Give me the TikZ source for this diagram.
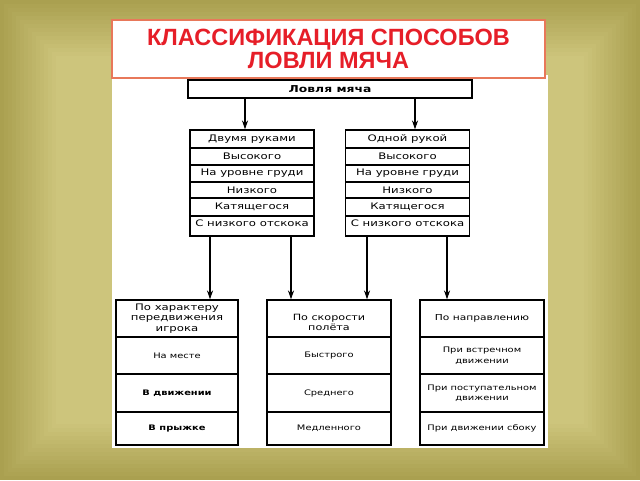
\documentclass[tikz,border=0pt]{standalone}
\usepackage{fontspec}
\setmainfont{Liberation Sans}
\newfontfamily\wide{DejaVu Sans}[FakeStretch=1.3]
\usetikzlibrary{arrows.meta}
\definecolor{oliveA}{RGB}{170,160,80}
\definecolor{oliveB}{RGB}{212,204,132}
\definecolor{titleline}{RGB}{232,120,90}
\definecolor{titletext}{RGB}{230,30,40}
\begin{document}
\begin{tikzpicture}[x=1pt,y=-1pt,
  cell/.style={draw=black,line width=1.1pt,fill=white,inner sep=0pt,align=center},
  t/.style={inner sep=0pt,align=center,font=\wide\fontsize{9}{10}\selectfont},
  s/.style={inner sep=0pt,align=center,font=\wide\fontsize{7.6}{10.5}\selectfont},
  arr/.style={line width=1.1pt,-{Stealth[length=9pt,width=6pt]}}]
\useasboundingbox (0,0) rectangle (640,480);
% background frames
\foreach \i in {0,...,14}{
  \pgfmathtruncatemacro\m{\i*4}
  \pgfmathtruncatemacro\c{100-\i*6}
  \fill[oliveA!\c!oliveB] (\m,\m) rectangle (640-\m,480-\m);
}
\fill[white] (112,75) rectangle (548,448);
\node[draw=titleline,line width=1.5pt,fill=white,minimum width=433,minimum height=58,inner sep=0pt,align=center,text=titletext,font=\bfseries\fontsize{23.5}{23}\selectfont] (title) at (328.5,49) {КЛАССИФИКАЦИЯ СПОСОБОВ\\ЛОВЛИ МЯЧА};
\node[cell,minimum width=284,minimum height=18,font=\wide\bfseries\fontsize{9.5}{10}\selectfont] (top) at (330,89) {Ловля мяча};
% middle stacks
\foreach \nm/\cx in {L/252,R/407.5}{
  \foreach \k/\ya/\yb in {1/130/148,2/148/165,3/165/182,4/182/198,5/198/216,6/216/236}{
    \node[cell,minimum width=124,minimum height={\yb-\ya}] (\nm\k) at (\cx,{(\ya+\yb)/2}) {};
  }
}
\foreach \k/\t in {1/Двумя руками,2/Высокого,3/На уровне груди,4/Низкого,5/Катящегося}{\node[t] at (L\k) {\t};}
\node[t,anchor=north] at ([yshift=-4pt]L6.north) {С низкого отскока};
\foreach \k/\t in {1/Одной рукой,2/Высокого,3/На уровне груди,4/Низкого,5/Катящегося}{\node[t] at (R\k) {\t};}
\node[t,anchor=north] at ([yshift=-4pt]R6.north) {С низкого отскока};
% bottom stacks
\foreach \nm/\cx/\w in {A/177/122,B/329/124,C/482/124}{
  \foreach \k/\ya/\yb in {1/300/337,2/337/374,3/374/412,4/412/445}{
    \node[cell,minimum width=\w,minimum height={\yb-\ya}] (\nm\k) at (\cx,{(\ya+\yb)/2}) {};
  }
}
\node[t,font=\wide\fontsize{9}{10.5}\selectfont] at (A1) {По характеру\\передвижения\\игрока};
\node[s] at (A2) {На месте};
\node[s,font=\wide\bfseries\fontsize{7.6}{10}\selectfont] at (A3) {В движении};
\node[s,font=\wide\bfseries\fontsize{7.6}{10}\selectfont] at (A4) {В прыжке};
\node[t,font=\wide\fontsize{8.6}{10}\selectfont] at ([yshift=-4pt]B1) {По скорости\\полёта};
\node[s] at (B2) {Быстрого};
\node[s] at (B3) {Среднего};
\node[s] at (B4) {Медленного};
\node[s,font=\wide\fontsize{8.2}{10}\selectfont] at (C1) {По направлению};
\node[s] at (C2) {При встречном\\движении};
\node[s] at (C3) {При поступательном\\движении};
\node[s] at (C4) {При движении сбоку};
% arrows
\draw[arr] (top.south -| 245,0) -- (L1.north -| 245,0);
\draw[arr] (top.south -| 415,0) -- (R1.north -| 415,0);
\draw[arr] (L6.south -| 210,0) -- (A1.north -| 210,0);
\draw[arr] (L6.south -| 291,0) -- (B1.north -| 291,0);
\draw[arr] (R6.south -| 367,0) -- (B1.north -| 367,0);
\draw[arr] (R6.south -| 447,0) -- (C1.north -| 447,0);
\end{tikzpicture}
\end{document}
